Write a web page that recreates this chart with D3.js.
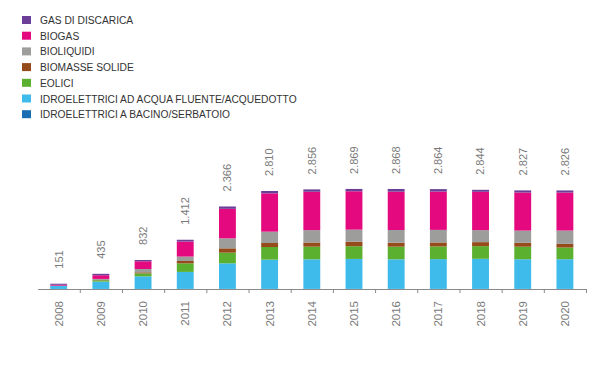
<!DOCTYPE html>
<html>
<head>
<meta charset="utf-8">
<script src="https://cdn.jsdelivr.net/npm/d3@7"></script>
<style>
    body { margin: 0; background: #ffffff; }
</style>
</head>
<body>
<div id="chart"></div>
<script>
var years = ["2008", "2009", "2010", "2011", "2012", "2013", "2014", "2015", "2016", "2017", "2018", "2019", "2020"];

// values per source, bottom of the stack first
var bacino   = [1, 2, 2, 3, 3, 3, 3, 3, 3, 3, 3, 3, 3];
var fluente  = [94, 210, 361, 487, 733, 838, 848, 859, 848, 854, 863, 850, 851];
var eolici   = [0, 38, 86, 245, 306, 363, 363, 365, 363, 363, 363, 360, 335];
var biomasse = [0, 10, 29, 68, 124, 115, 120, 130, 115, 115, 115, 112, 105];
var bioliq   = [0, 29, 96, 127, 287, 325, 354, 345, 363, 360, 344, 350, 382];
var biogas   = [26, 105, 220, 432, 846, 1099, 1101, 1100, 1099, 1099, 1099, 1092, 1090];
var gas      = [30, 41, 38, 50, 67, 67, 67, 67, 77, 70, 57, 60, 60];

var totals = [151, 435, 832, 1412, 2366, 2810, 2856, 2869, 2868, 2864, 2844, 2827, 2826];

var seriesNames = ["GAS DI DISCARICA", "BIOGAS", "BIOLIQUIDI", "BIOMASSE SOLIDE", "EOLICI",
    "IDROELETTRICI AD ACQUA FLUENTE/ACQUEDOTTO", "IDROELETTRICI A BACINO/SERBATOIO"];
var colors = ["#6b3f98", "#e5097f", "#9d9d9c", "#964b1a", "#5cb030", "#3ebbea", "#1b6db3"];

var width = 605, height = 374;
var x0 = 37.6, x1 = 586, base = 289;

var svg = d3.select("#chart")
    .append("svg")
    .attr("width", width)
    .attr("height", height);

// stack rows
var keys = ["bacino", "fluente", "eolici", "biomasse", "bioliq", "biogas", "gas"];
var cols = [bacino, fluente, eolici, biomasse, bioliq, biogas, gas];
var rows = years.map(function (y, i) {
    var r = { year: y };
    keys.forEach(function (k, j) { r[k] = cols[j][i]; });
    return r;
});
var stacked = d3.stack().keys(keys)(rows);
// colours follow the legend order (top first), stack is bottom first
var keyColor = {};
keys.forEach(function (k, j) { keyColor[k] = colors[colors.length - 1 - j]; });

var x = d3.scaleBand()
    .domain(years)
    .range([x0, x1])
    .padding(0);

var y = d3.scaleLinear()
    .domain([0, 2810])
    .range([base, 191]);

var barW = x.step() * 0.4;

svg.append("g")
    .selectAll("g")
    .data(stacked)
    .enter()
    .append("g")
    .attr("fill", function (d) { return keyColor[d.key]; })
    .selectAll("rect")
    .data(function (d) { return d; })
    .enter()
    .append("rect")
    .attr("x", function (d) { return x(d.data.year) + (x.bandwidth() - barW) / 2; })
    .attr("y", function (d) { return y(d[1]); })
    .attr("width", barW)
    .attr("height", function (d) { return y(d[0]) - y(d[1]); });

// axis with ticks between the bars
var xb = d3.scaleLinear().domain([0, years.length]).range([x0, x1]);
var axis = svg.append("g")
    .attr("transform", "translate(0," + base + ")")
    .call(d3.axisBottom(xb)
        .tickValues(d3.range(1, years.length + 1))
        .tickSize(4)
        .tickSizeOuter(0)
        .tickFormat(""));
axis.select(".domain").attr("stroke", "#8a8a8a");
axis.selectAll(".tick line").attr("stroke", "#8a8a8a");

// year labels
svg.append("g")
    .selectAll("text")
    .data(years)
    .enter()
    .append("text")
    .attr("transform", function (d) {
        return "translate(" + (x(d) + x.bandwidth() / 2) + ",301) rotate(-90)";
    })
    .attr("text-anchor", "end")
    .attr("dy", "0.35em")
    .style("font-family", "'Liberation Sans', Arial, sans-serif")
    .style("font-size", "11.5px")
    .style("fill", "#7a7a7a")
    .text(function (d) { return d; });

// totals above the bars
var it = d3.formatLocale({ decimal: ",", thousands: ".", grouping: [3], currency: ["", "€"] });
var fmt = it.format(",");

svg.append("g")
    .selectAll("text")
    .data(totals)
    .enter()
    .append("text")
    .attr("transform", function (d, i) {
        return "translate(" + (x(years[i]) + x.bandwidth() / 2) + "," + (y(d) - 15) + ") rotate(-90)";
    })
    .attr("text-anchor", "start")
    .attr("dy", "0.35em")
    .style("font-family", "'Liberation Sans', Arial, sans-serif")
    .style("font-size", "11px")
    .style("fill", "#7a7a7a")
    .text(function (d) { return fmt(d); });

// legend
var legend = svg.append("g")
    .selectAll("g")
    .data(seriesNames)
    .enter()
    .append("g")
    .attr("transform", function (d, i) {
        return "translate(22," + (20 + i * 15.7) + ")";
    });

legend.append("rect")
    .attr("x", 0)
    .attr("y", -4)
    .attr("width", 9)
    .attr("height", 8)
    .attr("fill", function (d, i) { return colors[i]; });

legend.append("text")
    .attr("transform", "translate(18,0) scale(0.89,1)")
    .attr("dy", "0.35em")
    .style("font-family", "'Liberation Sans', Arial, sans-serif")
    .style("font-size", "11.5px")
    .style("fill", "#333333")
    .text(function (d) { return d; });
</script>
</body>
</html>
